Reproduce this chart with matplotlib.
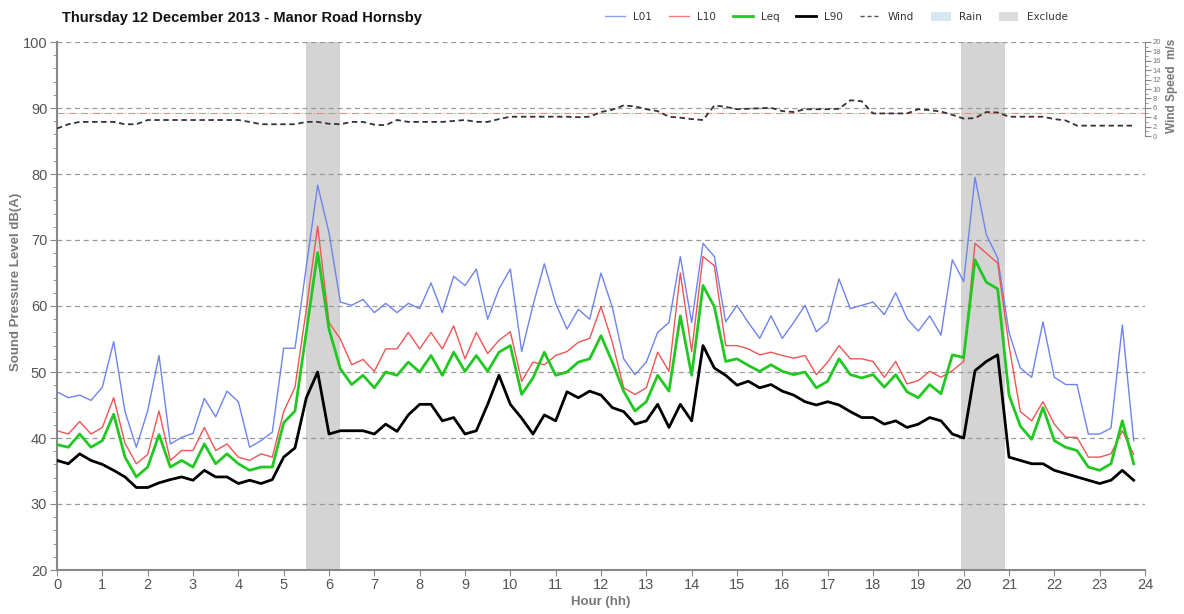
import numpy as np
import matplotlib.pyplot as plt
from matplotlib.lines import Line2D
from matplotlib.patches import Patch
from matplotlib.ticker import MultipleLocator, FixedLocator

# 15-minute statistics for the day
l01 = [47.0, 46.1, 46.5, 45.7, 47.7, 54.6, 44.0, 38.6, 44.1, 52.5, 39.1, 40.1,
       40.7, 46.0, 43.2, 47.1, 45.5, 38.6, 39.6, 40.9, 53.6, 53.6, 66.0, 78.3,
       71.1, 60.6, 60.1, 61.0, 59.0, 60.4, 59.0, 60.4, 59.6, 63.5, 59.0, 64.5,
       63.1, 65.6, 58.0, 62.6, 65.6, 53.1, 60.1, 66.4, 60.4, 56.5, 59.5, 58.0,
       65.0, 59.8, 52.0, 49.6, 51.5, 56.0, 57.5, 67.5, 57.5, 69.5, 67.5, 57.6,
       60.1, 57.5, 55.1, 58.5, 55.1, 57.5, 60.1, 56.1, 57.6, 64.1, 59.6, 60.1,
       60.6, 58.7, 62.0, 58.1, 56.2, 58.5, 55.6, 67.0, 63.7, 79.5, 70.8, 67.3,
       56.0, 50.6, 49.2, 57.6, 49.2, 48.1, 48.1, 40.6, 40.6, 41.5, 57.1, 39.6]

l10 = [41.1, 40.6, 42.5, 40.6, 41.6, 46.1, 39.2, 36.1, 37.5, 44.1, 36.6, 38.1,
       38.1, 41.6, 38.1, 39.1, 37.1, 36.6, 37.6, 37.1, 44.0, 47.7, 59.5, 72.1,
       57.5, 55.0, 51.1, 51.9, 50.1, 53.5, 53.5, 56.0, 53.5, 56.0, 53.5, 57.0,
       52.0, 56.0, 52.8, 54.8, 56.1, 48.6, 51.5, 51.1, 52.5, 53.1, 54.5, 55.1,
       59.9, 54.5, 47.6, 46.6, 47.6, 53.0, 50.1, 65.0, 53.1, 67.5, 66.1, 54.0,
       54.0, 53.5, 52.6, 53.0, 52.5, 52.1, 52.5, 49.6, 51.5, 54.0, 52.0, 52.0,
       51.6, 49.2, 51.6, 48.2, 48.7, 50.1, 49.2, 50.2, 51.6, 69.5, 68.0, 66.5,
       54.0, 44.0, 42.6, 45.5, 42.1, 40.1, 40.1, 37.1, 37.1, 37.6, 41.1, 37.5]

leq = [39.0, 38.6, 40.6, 38.6, 39.6, 43.6, 37.1, 34.1, 35.6, 40.5, 35.6, 36.6,
       35.6, 39.1, 36.1, 37.6, 36.1, 35.1, 35.6, 35.6, 42.3, 44.1, 56.1, 68.1,
       56.5, 50.5, 48.1, 49.5, 47.6, 50.0, 49.5, 51.5, 50.0, 52.5, 49.5, 53.0,
       50.1, 52.5, 50.1, 53.0, 54.0, 46.6, 49.1, 53.0, 49.5, 50.0, 51.5, 52.0,
       55.5, 51.5, 47.1, 44.1, 45.5, 49.5, 47.1, 58.5, 49.5, 63.1, 59.9, 51.6,
       52.0, 51.0, 50.1, 51.1, 50.1, 49.6, 50.0, 47.6, 48.6, 52.0, 49.6, 49.1,
       49.6, 47.7, 49.6, 47.0, 46.1, 48.1, 46.7, 52.6, 52.2, 67.0, 63.6, 62.6,
       46.5, 41.8, 39.8, 44.6, 39.6, 38.6, 38.1, 35.6, 35.1, 36.1, 42.6, 36.1]

l90 = [36.6, 36.1, 37.6, 36.6, 36.0, 35.1, 34.1, 32.5, 32.5, 33.2, 33.7, 34.1,
       33.6, 35.1, 34.1, 34.1, 33.1, 33.6, 33.1, 33.7, 37.1, 38.5, 46.1, 50.0,
       40.6, 41.1, 41.1, 41.1, 40.6, 42.1, 41.0, 43.5, 45.1, 45.1, 42.6, 43.1,
       40.6, 41.1, 45.1, 49.5, 45.1, 43.0, 40.6, 43.5, 42.6, 47.0, 46.1, 47.1,
       46.5, 44.6, 44.0, 42.1, 42.6, 45.1, 41.6, 45.1, 42.6, 54.0, 50.6, 49.5,
       48.0, 48.6, 47.6, 48.1, 47.1, 46.5, 45.5, 45.0, 45.5, 45.0, 44.0, 43.1,
       43.1, 42.1, 42.6, 41.6, 42.1, 43.1, 42.6, 40.6, 40.0, 50.2, 51.6, 52.6,
       37.1, 36.6, 36.1, 36.1, 35.1, 34.6, 34.1, 33.6, 33.1, 33.6, 35.1, 33.6]

# wind speed, m/s
wind = [1.6, 2.5, 3.0, 3.0, 3.0, 3.0, 2.5, 2.5, 3.4, 3.4, 3.4, 3.4,
        3.4, 3.4, 3.4, 3.4, 3.4, 3.0, 2.5, 2.5, 2.5, 2.5, 3.0, 3.0,
        2.6, 2.5, 3.0, 3.0, 2.4, 2.3, 3.4, 3.0, 3.0, 3.0, 3.0, 3.2,
        3.4, 3.0, 3.0, 3.6, 4.1, 4.1, 4.1, 4.1, 4.1, 4.1, 4.0, 4.1,
        5.1, 5.6, 6.5, 6.3, 5.7, 5.3, 4.1, 3.9, 3.6, 3.4, 6.5, 6.2,
        5.7, 5.8, 5.9, 6.0, 5.3, 5.1, 5.7, 5.7, 5.7, 5.8, 7.6, 7.4,
        4.8, 4.8, 4.8, 4.8, 5.7, 5.5, 5.2, 4.5, 3.7, 3.8, 5.1, 5.0,
        4.1, 4.1, 4.1, 4.1, 3.6, 3.3, 2.2, 2.2, 2.2, 2.2, 2.2, 2.2]

wind_limit = 5.0
exclude = [(5.5, 6.25), (19.95, 20.92)]

hours = np.arange(len(l01)) * 0.25

plt.rcParams['font.family'] = ['Liberation Sans Narrow', 'Liberation Sans', 'DejaVu Sans']
bold_font = ['Liberation Sans', 'DejaVu Sans']

fig = plt.figure(figsize=(11.84, 6.14), dpi=100)
ax = fig.add_axes([57 / 1184, 1 - 570 / 614, 1088 / 1184, 528 / 614])

for a, b in exclude:
    ax.axvspan(a, b, color='#d4d4d4', lw=0, zorder=0)

for v in range(30, 101, 10):
    ax.axhline(v, color='#999999', lw=0.9, ls=(0, (4, 3)), zorder=1)

ax.plot(hours, l01, color='#6f83ee', lw=1.0, zorder=3)
ax.plot(hours, l10, color='#ee5555', lw=1.0, zorder=3)
ax.plot(hours, leq, color='#22c822', lw=2.0, zorder=4)
ax.plot(hours, l90, color='black', lw=2.0, zorder=5)

ax.set_xlim(0, 24)
ax.set_ylim(20, 100)
ax.xaxis.set_major_locator(MultipleLocator(1))
ax.yaxis.set_major_locator(MultipleLocator(10))
ax.yaxis.set_minor_locator(MultipleLocator(2))
ax.tick_params(axis='both', colors='#888888', labelcolor='#555555', labelsize=10.5, direction='out')
ax.tick_params(axis='y', which='major', length=5, pad=2)
ax.tick_params(axis='y', which='minor', length=3, color='#888888')
ax.tick_params(axis='x', length=4, pad=2)
for s in ['top', 'right']:
    ax.spines[s].set_visible(False)
for s in ['left', 'bottom']:
    ax.spines[s].set_color('#888888')
    ax.spines[s].set_linewidth(1.5)

ax.set_xlabel('Hour (hh)', fontsize=9.5, fontweight='bold', color='#777777',
              family=bold_font, labelpad=3)
fig.text(16 / 1184, 1 - 282 / 614, 'Sound Pressure Level dB(A)', rotation=90,
         ha='center', va='center', fontsize=9.5, fontweight='bold', color='#777777',
         family=bold_font)

# wind speed on a secondary scale over the top band
ax2 = ax.twinx()
ax2.set_ylim(20 - 528 / 4.7, 20)
ax2.plot(hours, wind, color='#333333', lw=1.3, ls=(0, (3, 2)), zorder=6)
ax2.axhline(wind_limit, color='#ee8888', lw=0.8, ls='-.', zorder=2)
ax2.set_yticks(np.arange(0, 21, 2))
ax2.yaxis.set_minor_locator(FixedLocator(np.arange(1, 20, 2)))
ax2.spines['right'].set_bounds(0, 20)
ax2.spines['right'].set_color('#888888')
for s in ['top', 'left', 'bottom']:
    ax2.spines[s].set_visible(False)
ax2.tick_params(axis='y', which='major', length=4, colors='#888888', labelcolor='#777777', labelsize=5.5, pad=1.5)
ax2.tick_params(axis='y', which='minor', length=2, colors='#888888')
ax2.set_xlim(0, 24)
fig.text(1172 / 1184, 1 - 86 / 614, 'Wind Speed  m/s', rotation=90, ha='center', va='center',
         fontsize=8.5, fontweight='bold', color='#777777', family=bold_font)

fig.text(62 / 1184, 1 - 18 / 614, 'Thursday 12 December 2013 - Manor Road Hornsby',
         fontsize=10.5, fontweight='bold', color='#111111', va='center', family=bold_font)

handles = [
    Line2D([], [], color='#8f9ff2', lw=1.0),
    Line2D([], [], color='#f08080', lw=1.0),
    Line2D([], [], color='#22c822', lw=2.0),
    Line2D([], [], color='black', lw=2.0),
    Line2D([], [], color='#555555', lw=1.0, ls=(0, (3, 2))),
    Patch(facecolor='#d5e8f2', edgecolor='none'),
    Patch(facecolor='#dcdcdc', edgecolor='none'),
]
labels = ['L01', 'L10', 'Leq', 'L90', 'Wind', 'Rain', 'Exclude']
leg = fig.legend(handles, labels, loc='center left', bbox_to_anchor=(596 / 1184, 1 - 17 / 614),
                 ncol=7, frameon=False, handlelength=1.9, handleheight=0.9, columnspacing=1.6,
                 handletextpad=0.8, prop={'family': ['DejaVu Sans'], 'size': 7.5})
for t in leg.get_texts():
    t.set_color('#333333')

fig.savefig('out.png', dpi=100, facecolor='white')
